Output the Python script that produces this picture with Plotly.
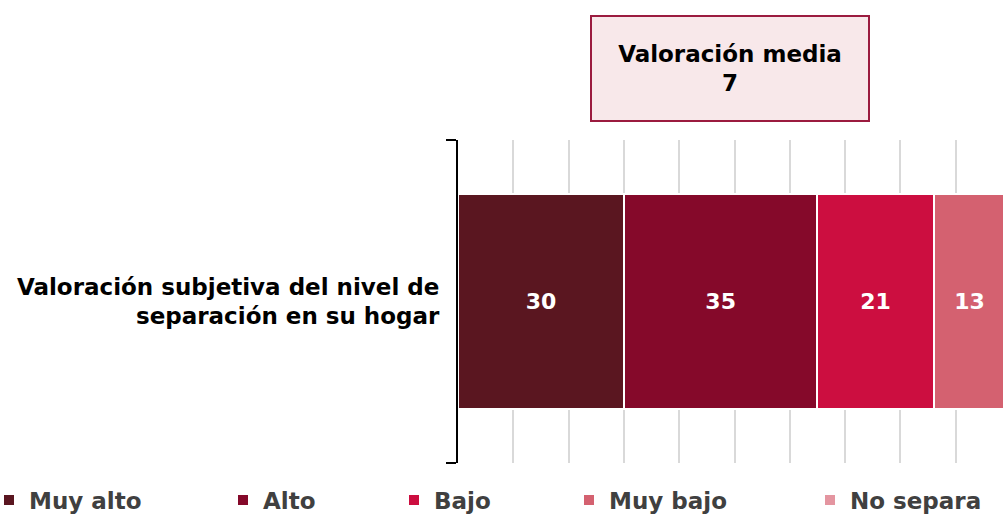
import plotly.graph_objects as go

# Survey result: perceived level of waste separation at home (%)
category = ["Valoración subjetiva del nivel de<br>separación en su hogar"]
series_names = ["Muy alto", "Alto", "Bajo", "Muy bajo", "No separa"]
series_values = [30, 35, 21, 13, 1]
series_colors = ["#5a1620", "#85092a", "#cc0e40", "#d46170", "#e495a0"]
average_label = "Valoración media"
average_value = 7

FONT = "DejaVu Sans"
W, H = 1003, 516

fig = go.Figure()

# Left edge (px) of each legend entry along the bottom row
legend_px = [0, 223, 394, 569, 810]
legend_indent = [-11, 0, 0, 0, 0]
plot_left = 458
plot_bottom = 463
plot_h = 323

for i, (name, val, col) in enumerate(zip(series_names, series_values, series_colors)):
    lname = "legend" if i == 0 else f"legend{i+1}"
    fig.add_trace(go.Bar(
        y=category, x=[val], name=name, orientation="h",
        marker=dict(color=col, line=dict(color="white", width=2)),
        text=[val] if name != "No separa" else [""],
        texttemplate="%{text}", textposition="inside", insidetextanchor="middle",
        textfont=dict(color="white", size=22, family=FONT, weight="bold"),
        legend=lname, showlegend=True, hoverinfo="x+name",
    ))
    fig.update_layout({lname: dict(
        xref="container", yref="container",
        x=legend_px[i] / W, y=1 - 500 / H,
        xanchor="left", yanchor="middle", orientation="h",
        itemwidth=30, indentation=legend_indent[i], bgcolor="rgba(0,0,0,0)",
        font=dict(size=23, color="#404040", family=FONT, weight="bold"),
    )})

fig.add_annotation(
    xref="paper", yref="paper",
    x=(730 - plot_left) / (W - plot_left), y=(plot_bottom - 68) / plot_h,
    xanchor="center", yanchor="middle",
    text=f"{average_label}<br>{average_value}",
    showarrow=False, align="center",
    font=dict(size=23, color="black", family=FONT, weight="bold"),
    bgcolor="#f8e8ea", bordercolor="#9b1b3f", borderwidth=2,
    width=274, height=101, valign="middle",
)

fig.update_layout(
    width=W, height=H, showlegend=True,
    margin=dict(l=plot_left, r=0, t=140, b=H - plot_bottom),
    barmode="stack", bargap=0.334,
    plot_bgcolor="white", paper_bgcolor="white",
    font=dict(family=FONT, size=22, color="black"),
    xaxis=dict(range=[0, 98.55], dtick=10, showgrid=True, gridcolor="#d9d9d9",
               gridwidth=2, showticklabels=False, zeroline=False, showline=False),
    yaxis=dict(showline=True, linecolor="black", linewidth=2,
               ticks="outside", tickson="boundaries", ticklen=10, tickwidth=2,
               tickcolor="black", ticklabelstandoff=12,
               tickfont=dict(size=23, color="black", family=FONT, weight="bold")),
)

fig.write_html("out.html")
